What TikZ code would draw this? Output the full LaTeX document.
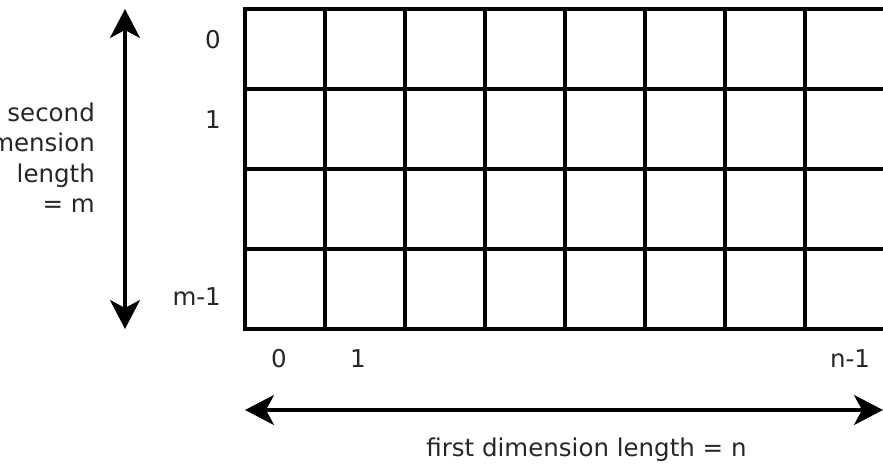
\documentclass[tikz,border=0pt]{standalone}
\usepackage{fontspec}
\setmainfont{DejaVu Sans}
\usetikzlibrary{arrows.meta}
\begin{document}
\begin{tikzpicture}[x=1pt,y=1pt,
  gridline/.style={line width=3.2pt},
  dimarrow/.style={line width=3.2pt, {Stealth[length=29pt,width=30pt,inset=8pt]}-{Stealth[length=29pt,width=30pt,inset=8pt]}},
  lbl/.style={font=\fontsize{24.5}{30.5}\selectfont, text=black!85, inner sep=0pt}]
\useasboundingbox (0,0) rectangle (883,463);
\clip (0,0) rectangle (883,463);
% grid
\draw[gridline] (245,134) rectangle (885,454);
\foreach \i in {1,...,7} \draw[gridline] ({245+80*\i},134) -- ({245+80*\i},454);
\foreach \j in {1,...,3} \draw[gridline] (245,{134+80*\j}) -- (885,{134+80*\j});
% arrows
\coordinate (vtop) at (125,454);
\coordinate (vbot) at (125,134);
\coordinate (hleft) at (245,53);
\coordinate (hright) at (883,53);
\draw[dimarrow] (vtop) -- (vbot);
\draw[dimarrow] (hleft) -- (hright);
% row labels
\node[lbl, anchor=base east] (r0) at (221,414) {0};
\node[lbl, anchor=base east] (r1) at (221,334) {1};
\node[lbl, anchor=base east] (rm) at (221,157) {m-1};
% column labels
\node[lbl, anchor=base] (c0) at (279,95) {0};
\node[lbl, anchor=base] (c1) at (358,95) {1};
\node[lbl, anchor=base] (cn) at (850,95) {n-1};
% dimension labels
\node[lbl, anchor=base east, align=right] (second) at (95,250) {second\\dimension\\length\\= m};
\node[lbl, anchor=base] (first) at (586.5,6) {first dimension length = n};
\end{tikzpicture}
\end{document}
